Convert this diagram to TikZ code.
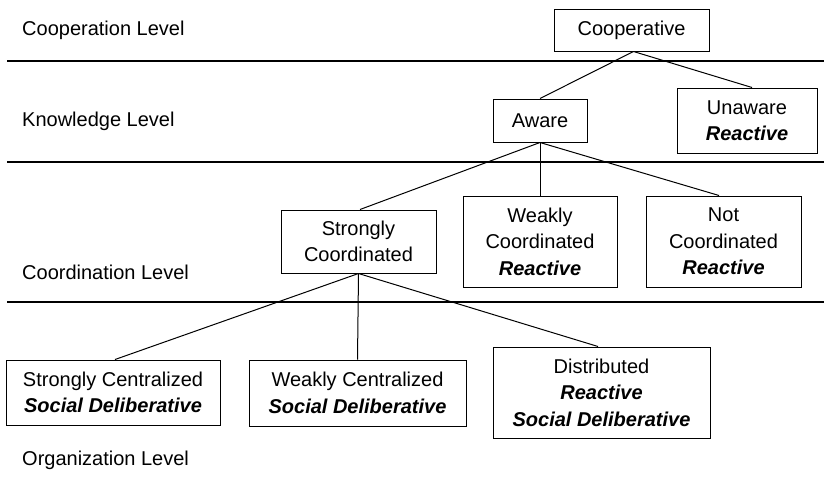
\documentclass[tikz,border=0pt]{standalone}
\usepackage{fontspec}
\setmainfont{Liberation Sans}
\begin{document}
\begin{tikzpicture}[x=1pt,y=-1pt,
  every node/.style={font=\fontsize{20}{26.5}\selectfont},
  box/.style={draw=black, line width=1pt, inner sep=0pt, align=center},
  lvl/.style={anchor=west, inner sep=0pt},
  sep/.style={line width=1.3pt},
  conn/.style={line width=1pt}]
\useasboundingbox (0,0) rectangle (824,482);
% separators
\draw[sep] (7,61) -- (824,61);
\draw[sep] (7,162) -- (824,162);
\draw[sep] (7,302) -- (824,302);
% level labels
\node[lvl] (l1) at (22,30) {Cooperation Level};
\node[lvl] (l2) at (22,121) {Knowledge Level};
\node[lvl] (l3) at (22,272) {Coordination Level};
\node[lvl] (l4) at (22,460) {Organization Level};
% boxes
\node[box, minimum width=155pt, minimum height=42pt] (coop) at (631.5,30) {Cooperative};
\node[box, minimum width=94pt, minimum height=43pt] (aware) at (540,120.5) {Aware};
\node[box, minimum width=140pt, minimum height=65pt] (unaware) at (747,120.5) {Unaware\\\textbf{\textit{Reactive}}};
\node[box, minimum width=155pt, minimum height=63pt] (scoord) at (358.5,241.5) {Strongly\\Coordinated};
\node[box, minimum width=154pt, minimum height=91pt] (wcoord) at (540,241.5) {Weakly\\Coordinated\\\textbf{\textit{Reactive}}};
\node[box, minimum width=155pt, minimum height=91pt] (ncoord) at (723.5,241.5) {Not\\Coordinated\\\textbf{\textit{Reactive}}};
\node[box, minimum width=214pt, minimum height=65pt] (scent) at (113,392.5) {Strongly Centralized\\\textbf{\textit{Social Deliberative}}};
\node[box, minimum width=217pt, minimum height=66pt] (wcent) at (357.5,393) {Weakly Centralized\\\textbf{\textit{Social Deliberative}}};
\node[box, minimum width=217pt, minimum height=91pt] (dist) at (601.5,392.5) {Distributed\\\textbf{\textit{Reactive}}\\\textbf{\textit{Social Deliberative}}};
% connectors
\draw[conn] ([xshift=2pt]coop.south) -- (aware.north);
\draw[conn] ([xshift=2pt]coop.south) -- ([xshift=5pt]unaware.north);
\draw[conn] (aware.south) -- ([xshift=1.5pt]scoord.north);
\draw[conn] (aware.south) -- (wcoord.north);
\draw[conn] (aware.south) -- ([xshift=-4.5pt]ncoord.north);
\draw[conn] (scoord.south) -- ([xshift=2pt]scent.north);
\draw[conn] (scoord.south) -- (wcent.north);
\draw[conn] (scoord.south) -- ([xshift=-3.5pt]dist.north);
\end{tikzpicture}
\end{document}
